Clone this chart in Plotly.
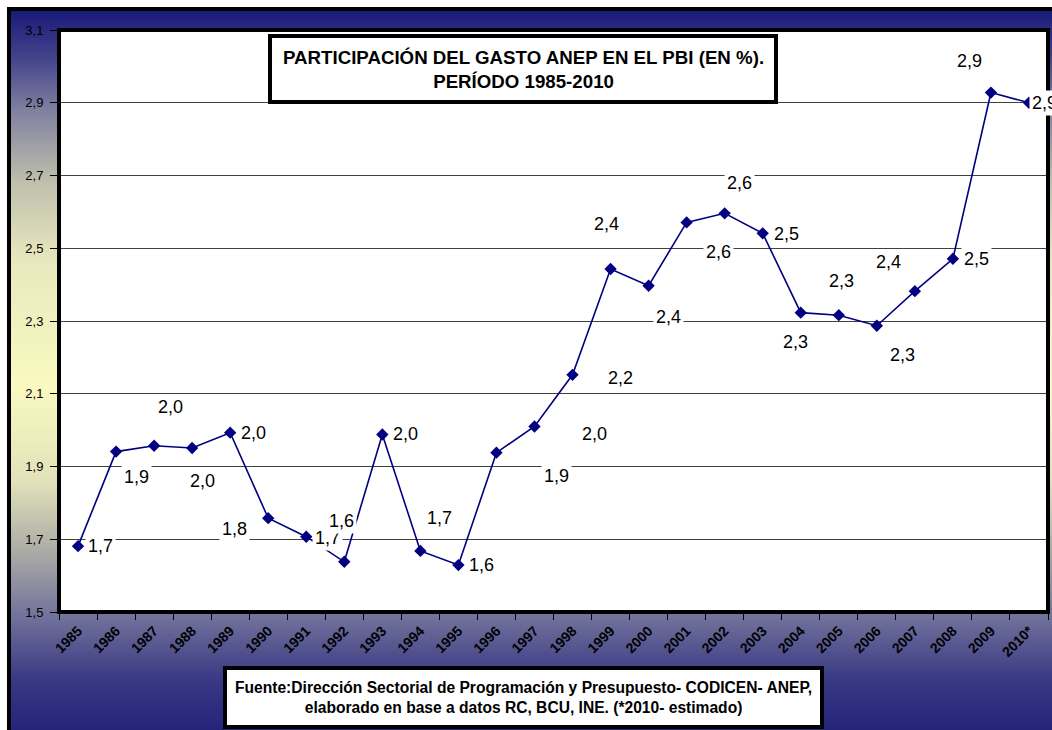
import base64
import struct
import zlib

import plotly.graph_objects as go

# ---- data -------------------------------------------------------------
years = ["1985", "1986", "1987", "1988", "1989", "1990", "1991", "1992",
         "1993", "1994", "1995", "1996", "1997", "1998", "1999", "2000",
         "2001", "2002", "2003", "2004", "2005", "2006", "2007", "2008",
         "2009", "2010*"]
gasto_pbi = [1.681, 1.941, 1.957, 1.951, 1.993, 1.758, 1.707, 1.638,
             1.988, 1.668, 1.629, 1.938, 2.010, 2.152, 2.443, 2.397,
             2.571, 2.596, 2.541, 2.323, 2.316, 2.287, 2.382, 2.471,
             2.928, 2.900]
y_ticks = [1.5, 1.7, 1.9, 2.1, 2.3, 2.5, 2.7, 2.9, 3.1]
y_tick_text = ["1,5", "1,7", "1,9", "2,1", "2,3", "2,5", "2,7", "2,9", "3,1"]

title_text = ("<b>PARTICIPACIÓN DEL GASTO ANEP EN EL PBI (EN %).<br>"
              "PERÍODO 1985-2010</b>")
source_text = ("<b>Fuente:Dirección Sectorial de Programación y Presupuesto- "
               "CODICEN- ANEP,<br>elaborado en base a datos RC, BCU, INE. "
               "(*2010- estimado)</b>")

# pixel offsets (right, down) of each value label from its marker
label_offsets = [(22, 0), (20, 25), (16, -39), (10, 33), (23, 0), (-34, 11),
                 (21, 1), (-3, -41), (23, 0), (19, -33), (23, 0), (60, 23),
                 (60, 8), (48, 3), (-4, -45), (20, 31), (32, 30), (15, -30),
                 (24, 1), (-5, 29), (3, -34), (26, 29), (-26, -29), (24, 0),
                 (-21, -32), (16, 0)]

# ---- geometry ---------------------------------------------------------
W, H = 1052, 730
ML, MR, MT, MB = 59, 4, 30, 118
PW, PH = W - ML - MR, H - MT - MB
FONT = "Liberation Sans, Arial, sans-serif"
NAVY = "#000080"


def px(x):
    return (x - ML) / PW


def py(y):
    return (H - MB - y) / PH


# ---- vertical background gradient (navy -> pale yellow -> navy) -------
grad_top, grad_bottom = 11, 760
stops = [(11, (26, 26, 122)), (60, (70, 70, 140)), (110, (128, 128, 160)),
         (180, (190, 190, 172)), (260, (232, 232, 190)), (385, (249, 249, 192)),
         (480, (226, 226, 186)), (560, (164, 164, 164)), (620, (110, 110, 154)),
         (680, (56, 56, 132)), (760, (24, 24, 118))]


def grad_color(y):
    for (y0, c0), (y1, c1) in zip(stops[:-1], stops[1:]):
        if y0 <= y <= y1:
            t = (y - y0) / (y1 - y0)
            return tuple(int(round(a + (b - a) * t)) for a, b in zip(c0, c1))
    return stops[-1][1]


def png_column(colors):
    def chunk(tag, data):
        return (struct.pack(">I", len(data)) + tag + data +
                struct.pack(">I", zlib.crc32(tag + data) & 0xFFFFFFFF))
    raw = b"".join(b"\x00" + bytes(c) for c in colors)
    ihdr = struct.pack(">IIBBBBB", 1, len(colors), 8, 2, 0, 0, 0)
    png = (b"\x89PNG\r\n\x1a\n" + chunk(b"IHDR", ihdr) +
           chunk(b"IDAT", zlib.compress(raw)) + chunk(b"IEND", b""))
    return "data:image/png;base64," + base64.b64encode(png).decode()


gradient_uri = png_column([grad_color(y) for y in range(grad_top, grad_bottom)])

# ---- figure -----------------------------------------------------------
fig = go.Figure()
fig.add_trace(go.Scatter(
    x=years, y=gasto_pbi, mode="lines+markers",
    line=dict(color=NAVY, width=1.6),
    marker=dict(symbol="diamond", size=9.5, color=NAVY),
    hoverinfo="x+y", showlegend=False,
))

annotations = []
for idx, (value, (dx, dy)) in enumerate(zip(gasto_pbi, label_offsets)):
    # category axis: annotations are placed by category index
    annotations.append(dict(
        x=idx, y=value, xref="x", yref="y",
        text=f"{value:.1f}".replace(".", ","),
        showarrow=False, xanchor="center", yanchor="middle",
        xshift=dx, yshift=-dy,
        bgcolor="white", borderpad=2,
        font=dict(family=FONT, size=18, color="black"),
    ))
annotations.append(dict(
    x=px(523), y=py(69), xref="paper", yref="paper", text=title_text,
    showarrow=False, xanchor="center", yanchor="middle",
    font=dict(family=FONT, size=18.7, color="black"),
))
annotations.append(dict(
    x=px(523), y=py(697), xref="paper", yref="paper", text=source_text,
    showarrow=False, xanchor="center", yanchor="middle",
    font=dict(family=FONT, size=15.6, color="black"),
))

shapes = [
    # outer chart frame
    dict(type="rect", xref="paper", yref="paper", layer="below",
         x0=px(9), x1=px(1075), y0=py(9), y1=py(770),
         line=dict(color="black", width=4), fillcolor="rgba(0,0,0,0)"),
    # white plotting area
    dict(type="rect", xref="paper", yref="paper", layer="below",
         x0=0, x1=1, y0=0, y1=1, line=dict(width=0), fillcolor="white"),
    # plotting area frame
    dict(type="rect", xref="paper", yref="paper", layer="above",
         x0=0, x1=1, y0=0, y1=1, line=dict(color="black", width=4)),
    # title box
    dict(type="rect", xref="paper", yref="paper", layer="above",
         x0=px(270), x1=px(776), y0=py(102), y1=py(36),
         line=dict(color="black", width=4), fillcolor="white"),
    # source box
    dict(type="rect", xref="paper", yref="paper", layer="above",
         x0=px(225), x1=px(822), y0=py(727), y1=py(668),
         line=dict(color="black", width=4), fillcolor="white"),
]

fig.update_layout(
    width=W, height=H,
    margin=dict(l=ML, r=MR, t=MT, b=MB, pad=0),
    paper_bgcolor="white", plot_bgcolor="white",
    font=dict(family=FONT, color="black"),
    showlegend=False,
    images=[dict(source=gradient_uri, xref="paper", yref="paper",
                 x=px(11), y=py(grad_top), sizex=(1075 - 11) / PW,
                 sizey=(grad_bottom - grad_top) / PH,
                 xanchor="left", yanchor="top", sizing="stretch",
                 layer="below")],
    shapes=shapes,
    annotations=annotations,
    xaxis=dict(
        type="category", tickson="boundaries", ticks="outside", ticklen=7,
        tickcolor="black", tickwidth=1, showgrid=False, zeroline=False,
        showline=False, tickangle=-45, ticklabelstandoff=7,
        tickfont=dict(family=FONT, size=14, color="black", weight="bold"),
        range=[-0.5, len(years) - 0.5],
    ),
    yaxis=dict(
        range=[1.5, 3.1], tickvals=y_ticks, ticktext=y_tick_text,
        ticks="outside", ticklen=8, tickcolor="black", tickwidth=1,
        showgrid=True, gridcolor="#404040", gridwidth=1, zeroline=False,
        showline=False, ticklabelstandoff=4,
        tickfont=dict(family=FONT, size=13, color="black"),
    ),
)

fig.write_html("out.html")
